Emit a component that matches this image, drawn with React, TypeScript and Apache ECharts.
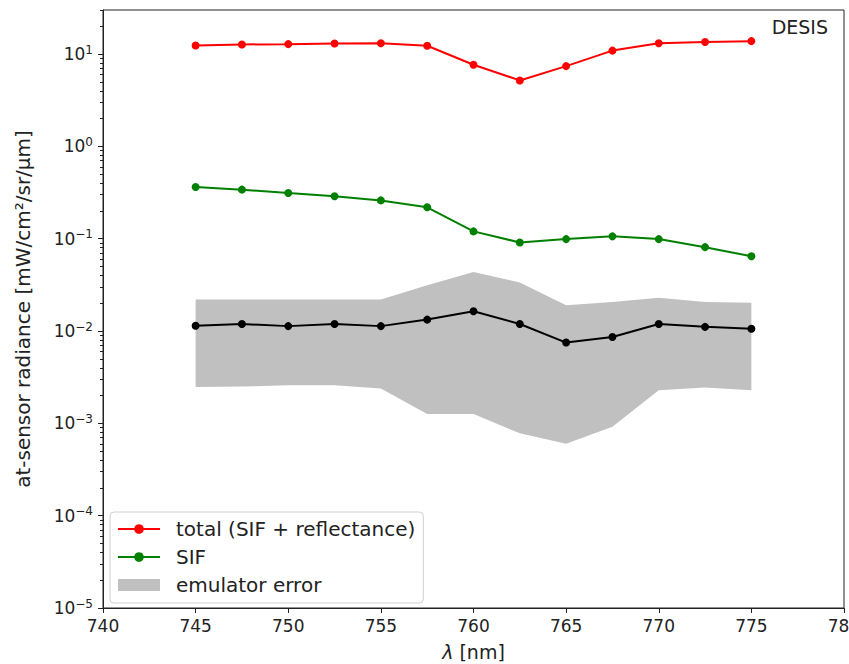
import React, { useEffect, useRef } from 'react';
import * as echarts from 'echarts';

const wavelengths = [745, 747.5, 750, 752.5, 755, 757.5, 760, 762.5, 765, 767.5, 770, 772.5, 775];
const totalRadiance = [12.4, 12.7, 12.8, 13.0, 13.1, 12.3, 7.66, 5.18, 7.4, 10.9, 13.1, 13.5, 13.8];
const sifRadiance = [0.363, 0.34, 0.313, 0.288, 0.26, 0.219, 0.12, 0.091, 0.099, 0.106, 0.099, 0.081, 0.0645];
const emulatorMean = [0.0114, 0.0119, 0.0113, 0.0119, 0.0113, 0.0133, 0.0164, 0.0119, 0.0075, 0.0086, 0.0119, 0.0111, 0.0106];
const errorUpper = [0.0219, 0.022, 0.022, 0.022, 0.022, 0.0313, 0.0436, 0.0335, 0.019, 0.0206, 0.023, 0.0206, 0.0203];
const errorLower = [0.00248, 0.0025, 0.00258, 0.00259, 0.00238, 0.00126, 0.00126, 0.00078, 0.0006, 0.00092, 0.00229, 0.00245, 0.00229];

const yMajorTicks = [1e-5, 1e-4, 1e-3, 1e-2, 1e-1, 1, 10];
const yMinorTicks: number[] = [];
for (let d = -5; d <= 1; d++) {
  for (let k = 2; k <= 9; k++) {
    const v = k * Math.pow(10, d);
    if (v <= 30) yMinorTicks.push(v);
  }
}

const FONT = 'DejaVu Sans';
const TXT = '#222';

export default function App() {
  const ref = useRef<HTMLDivElement>(null);
  useEffect(() => {
    if (!ref.current) return;
    const chart = echarts.init(ref.current, null, { renderer: 'svg' });
    const option: any = {
      animation: false,
      backgroundColor: '#fff',
      textStyle: { fontFamily: FONT },
      title: {
        text: 'DESIS',
        right: 16,
        top: 12,
        textStyle: { fontFamily: FONT, fontSize: 19, fontWeight: 'normal', color: TXT },
      },
      grid: {
        left: 103,
        top: 10,
        right: 5,
        bottom: 56,
        show: true,
        borderColor: '#222',
        borderWidth: 1,
        outerBoundsMode: 'none',
        containLabel: false,
      },
      legend: {
        orient: 'vertical',
        left: 110,
        top: 512,
        padding: [7, 8, 8, 7],
        itemWidth: 42,
        itemHeight: 12,
        itemGap: 8,
        backgroundColor: 'rgba(255,255,255,0.8)',
        borderColor: '#d0d0d0',
        borderWidth: 1,
        borderRadius: 4,
        textStyle: { fontFamily: FONT, fontSize: 20, color: TXT, lineHeight: 20, padding: [0, 0, 0, 11] },
        data: [
          { name: 'total (SIF + reflectance)' },
          { name: 'SIF' },
          { name: 'emulator error', icon: 'rect', itemHeight: 14 },
        ],
      },
      xAxis: {
        type: 'value',
        min: 740,
        max: 780,
        interval: 5,
        name: '{i|λ} [nm]',
        nameLocation: 'middle',
        nameGap: 34,
        nameTextStyle: {
          fontFamily: FONT,
          fontSize: 19,
          color: TXT,
          rich: { i: { fontFamily: FONT, fontSize: 19, fontStyle: 'italic', color: TXT } },
        },
        axisLine: { show: true, lineStyle: { color: '#222', width: 1 } },
        axisTick: { show: true, inside: false, length: 5, lineStyle: { color: '#222', width: 1 } },
        axisLabel: { fontFamily: FONT, fontSize: 17, color: TXT, margin: 9 },
        splitLine: { show: false },
      },
      yAxis: [
        {
          type: 'log',
          logBase: 10,
          min: 1e-5,
          max: 30,
          name: 'at-sensor radiance [mW/cm²/sr/μm]',
          nameLocation: 'middle',
          nameGap: 70,
          nameTextStyle: { fontFamily: FONT, fontSize: 20, color: TXT },
          axisLine: { show: true, lineStyle: { color: '#222', width: 1 } },
          axisTick: {
            show: true,
            inside: false,
            length: 5,
            customValues: yMajorTicks,
            lineStyle: { color: '#222', width: 1 },
          },
          axisLabel: {
            customValues: yMajorTicks,
            margin: 10,
            formatter: (v: number) => {
              const n = Math.round(Math.log10(v));
              const s = n < 0 ? '−' + -n : String(n);
              return '{b|10}{e|' + s + '}';
            },
            rich: {
              b: { fontFamily: FONT, fontSize: 17, color: TXT, lineHeight: 21 },
              e: { fontFamily: FONT, fontSize: 12, color: TXT, lineHeight: 12, verticalAlign: 'top' },
            },
          },
          splitLine: { show: false },
        },
        {
          type: 'log',
          logBase: 10,
          min: 1e-5,
          max: 30,
          position: 'left',
          axisLine: { show: false },
          axisTick: {
            show: true,
            inside: false,
            length: 3,
            customValues: yMinorTicks,
            lineStyle: { color: '#222', width: 1 },
          },
          axisLabel: { show: false },
          splitLine: { show: false },
        },
      ],
      series: [
        {
          name: 'emulator error',
          type: 'custom',
          xAxisIndex: 0,
          yAxisIndex: 0,
          z: 1,
          itemStyle: { color: '#c0c0c0' },
          data: wavelengths.map((x, i) => [x, errorLower[i], errorUpper[i]]),
          encode: { x: 0, y: [1, 2] },
          renderItem: (params: any, api: any) => {
            if (params.dataIndex !== 0) return null;
            const upper = wavelengths.map((x, i) => api.coord([x, errorUpper[i]]));
            const lower = wavelengths.map((x, i) => api.coord([x, errorLower[i]])).reverse();
            return {
              type: 'polygon',
              shape: { points: upper.concat(lower) },
              style: { fill: '#c0c0c0', stroke: 'none' },
            };
          },
        },
        {
          name: 'emulator mean',
          type: 'line',
          z: 3,
          data: wavelengths.map((x, i) => [x, emulatorMean[i]]),
          symbol: 'circle',
          symbolSize: 8,
          lineStyle: { color: '#000', width: 2 },
          itemStyle: { color: '#000' },
        },
        {
          name: 'total (SIF + reflectance)',
          type: 'line',
          z: 3,
          data: wavelengths.map((x, i) => [x, totalRadiance[i]]),
          symbol: 'circle',
          symbolSize: 8,
          lineStyle: { color: '#ff0000', width: 2 },
          itemStyle: { color: '#ff0000' },
        },
        {
          name: 'SIF',
          type: 'line',
          z: 3,
          data: wavelengths.map((x, i) => [x, sifRadiance[i]]),
          symbol: 'circle',
          symbolSize: 8,
          lineStyle: { color: '#008000', width: 2 },
          itemStyle: { color: '#008000' },
        },
      ],
    };
    chart.setOption(option);
    return () => chart.dispose();
  }, []);
  return (
    <div
      ref={ref}
      style={{ position: 'absolute', left: 0, top: 0, width: 849, height: 664 }}
    />
  );
}
